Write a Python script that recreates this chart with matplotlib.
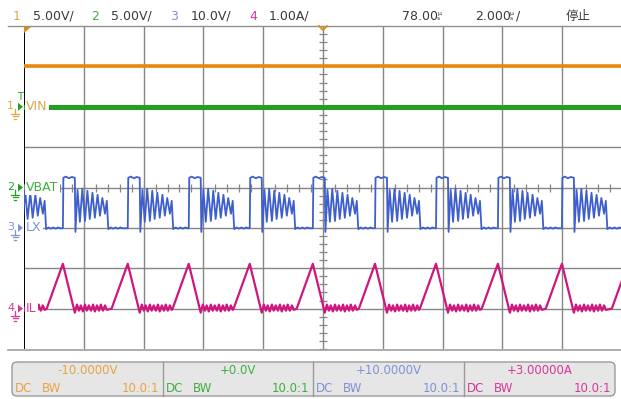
import matplotlib.pyplot as plt
from matplotlib.patches import FancyBboxPatch, Polygon

plt.rcParams['font.family'] = ['DejaVu Sans', 'Noto Sans CJK SC']

# --- channel settings -------------------------------------------------------
ch_names = ['VIN', 'VBAT', 'LX', 'IL']
ch_scale = [5.0, 5.0, 10.0, 1.0]          # units per division
ch_scale_text = ['5.00V/', '5.00V/', '10.0V/', '1.00A/']
ch_offset_text = ['-10.0000V', '+0.0V', '+10.0000V', '+3.00000A']
ch_ground = [2.0, 0.0, -1.0, -3.0]        # ground marker, divisions from centre
ch_color = ['#e8880c', '#22a022', '#3f5fcc', '#d0157e']
ch_text_color = ['#e8a345', '#3fae3f', '#7d93d8', '#d6389a']

# --- measured values --------------------------------------------------------
vin_level = 5.0      # V
vbat_level = 10.0    # V

# switching period starts (rising edge of LX), µs
cycle_starts = [-10.78, -8.70, -6.53, -4.49, -2.45, -0.34, 1.74, 3.78, 5.85, 7.99, 10.2]

# LX node voltage over one period, relative to its rising edge
lx_offsets = [0.0, 0.017, 0.10, 0.20, 0.30, 0.40, 0.42, 0.49, 0.57, 0.65, 0.74,
              0.82, 0.90, 0.99, 1.07, 1.16, 1.24, 1.32, 1.41, 1.47, 1.52,
              1.60, 1.68, 1.76, 1.84, 1.92, 2.00]
lx_volts = [-0.1, 12.4, 12.7, 12.3, 12.6, 12.4, -1.0, 9.4, 1.5, 9.7, 1.7,
            9.2, 2.2, 8.7, 2.5, 8.2, 3.0, 7.4, 3.5, 6.7, -0.3,
            0.1, -0.2, 0.1, -0.2, 0.1, -0.1]

# inductor current over one period, relative to the LX rising edge
il_offsets = [-0.54, 0.0, 0.40, 0.47, 0.54, 0.60, 0.67, 0.74, 0.80, 0.87, 0.94,
              1.01, 1.07, 1.14, 1.21, 1.27, 1.34, 1.41, 1.47]
il_amps = [0.0, 1.11, -0.10, 0.10, -0.05, 0.08, -0.07, 0.10, -0.05, 0.08, -0.05,
           0.10, -0.07, 0.08, -0.05, 0.10, -0.05, 0.08, -0.03]


def periodic(starts, offsets, values):
    ts, vs = [], []
    for i, t0 in enumerate(starts):
        nxt = starts[i + 1] if i + 1 < len(starts) else 1e9
        for off, v in zip(offsets, values):
            t = t0 + off
            if off >= 0 and t >= nxt:
                break
            ts.append(t)
            vs.append(v)
    return ts, vs


def to_div(ch, vals):
    return [ch_ground[ch] + v / ch_scale[ch] for v in vals]


W, H = 621, 399
fig = plt.figure(figsize=(W / 100, H / 100), dpi=100)
fig.patch.set_facecolor('white')

# screen area: x 24..621 px, y 26..349 px
ax = fig.add_axes([24 / W, (H - 349) / H, (W - 24) / W, 323 / H])
ax.set_xlim(-10, -10 + 597 / 29.9)
ax.set_ylim(-4, 4)
ax.axis('off')

grid_c = '#868686'
for x in range(-8, 10, 2):
    ax.axvline(x, color=grid_c, lw=1.0, zorder=1)
for y in range(-3, 4):
    ax.axhline(y, color=grid_c, lw=1.0, zorder=1)
ax.axvline(-10, color='black', lw=1.4, zorder=1)

# minor ticks on the centre cross
yt = [k * 0.2 for k in range(-20, 21)]
ax.plot([0] * len(yt), yt, ls='none', marker='_', ms=6, mew=0.9, color=grid_c, zorder=1)
xt = [k * 0.4 for k in range(-25, 25)]
ax.plot(xt, [0] * len(xt), ls='none', marker='|', ms=6, mew=0.9, color=grid_c, zorder=1)

# traces
ax.plot([-10, 10], to_div(0, [vin_level, vin_level]), color=ch_color[0], lw=2.6, zorder=3)
ax.plot([-10, 10], to_div(1, [vbat_level, vbat_level]), color=ch_color[1], lw=3.6, zorder=3)

t_lx, v_lx = periodic(cycle_starts, lx_offsets, lx_volts)
ax.plot(t_lx, to_div(2, v_lx), color=ch_color[2], lw=1.3, zorder=4)

t_il, a_il = periodic(cycle_starts, il_offsets, il_amps)
ax.plot(t_il, to_div(3, a_il), color=ch_color[3], lw=1.6, zorder=5)

# --- overlay in pixel coordinates --------------------------------------------
ov = fig.add_axes([0, 0, 1, 1])
ov.set_xlim(0, W)
ov.set_ylim(H, 0)
ov.axis('off')

ov.plot([8, W], [26, 26], color='#909090', lw=1.0)
ov.plot([8, W], [349.5, 349.5], color='#a0a0a0', lw=1.2)

# trigger markers
ov.add_patch(Polygon([[24, 27], [31, 27], [24, 33]], closed=True, color='#e8880c', lw=0))
ov.plot([319, 323, 327], [26, 30, 26], color='#e8880c', lw=1.3)

# header
hy = 16
hdr_fs = 9
for i, (xn, xv) in enumerate([(13, 33), (91, 111), (170, 191), (249, 269)]):
    ov.text(xn, hy, str(i + 1), color=ch_text_color[i], fontsize=hdr_fs, va='center')
    ov.text(xv, hy, ch_scale_text[i], color='#3a3a3a', fontsize=hdr_fs, va='center')
ov.text(402, hy, '78.00', color='#3a3a3a', fontsize=hdr_fs, va='center')
ov.text(437, hy, 'µ\ns', color='#3a3a3a', fontsize=4.5, va='center', linespacing=0.8)
ov.text(475, hy, '2.000', color='#3a3a3a', fontsize=hdr_fs, va='center')
ov.text(510, hy, 'µ\ns', color='#3a3a3a', fontsize=4.5, va='center', linespacing=0.8)
ov.text(516, hy, '/', color='#3a3a3a', fontsize=hdr_fs, va='center')
ov.text(566, hy, '停止', color='#3a3a3a', fontsize=hdr_fs, va='center')


def ground_marker(x, y, c):
    ov.plot([x, x], [y, y + 5], color=c, lw=0.9)
    ov.plot([x - 4, x + 4], [y + 5, y + 5], color=c, lw=0.9)
    ov.plot([x - 2.5, x + 2.5], [y + 7.5, y + 7.5], color=c, lw=0.9)
    ov.plot([x - 1, x + 1], [y + 10, y + 10], color=c, lw=0.9)


def channel_label(i, num_c, arrow_c, name_c):
    y = 187.5 - ch_ground[i] * 40.375
    ov.text(7, y - 1, str(i + 1), color=num_c, fontsize=8, va='center')
    ground_marker(15, y + 2, num_c)
    ov.add_patch(Polygon([[18, y - 4], [18, y + 4], [23, y]], closed=True,
                         color=arrow_c, lw=0))
    ov.text(26, y, ch_names[i], color=name_c, fontsize=9, va='center',
            bbox=dict(facecolor='white', edgecolor='none', pad=1.0))


channel_label(0, ch_text_color[0], ch_color[1], '#d9a74a')
ov.text(17, 97, 'T', color=ch_color[1], fontsize=7, va='center')
channel_label(1, ch_color[1], ch_color[1], ch_text_color[1])
channel_label(2, ch_text_color[2], ch_text_color[2], ch_text_color[2])
channel_label(3, ch_text_color[3], ch_text_color[3], ch_text_color[3])

# bottom channel panel
ov.add_patch(FancyBboxPatch((12, 362), 603, 34, boxstyle='round,pad=0,rounding_size=5',
                            facecolor='#e6e6e6', edgecolor='#9a9a9a', lw=1.0))
cell_x = [12, 163, 313, 464, 615]
for xd in cell_x[1:-1]:
    ov.plot([xd, xd], [362, 396], color='#9a9a9a', lw=1.0)
for i in range(4):
    x0, x1 = cell_x[i], cell_x[i + 1]
    c = ch_text_color[i]
    ov.text((x0 + x1) / 2, 371, ch_offset_text[i], color=c, fontsize=8.5,
            ha='center', va='center')
    ov.text(x0 + 3, 388, 'DC', color=c, fontsize=8.5, va='center')
    ov.text(x0 + 30, 388, 'BW', color=c, fontsize=8.5, va='center')
    ov.text(x1 - 4, 388, '10.0:1', color=c, fontsize=8.5, ha='right', va='center')

fig.savefig('out.png', dpi=100)
